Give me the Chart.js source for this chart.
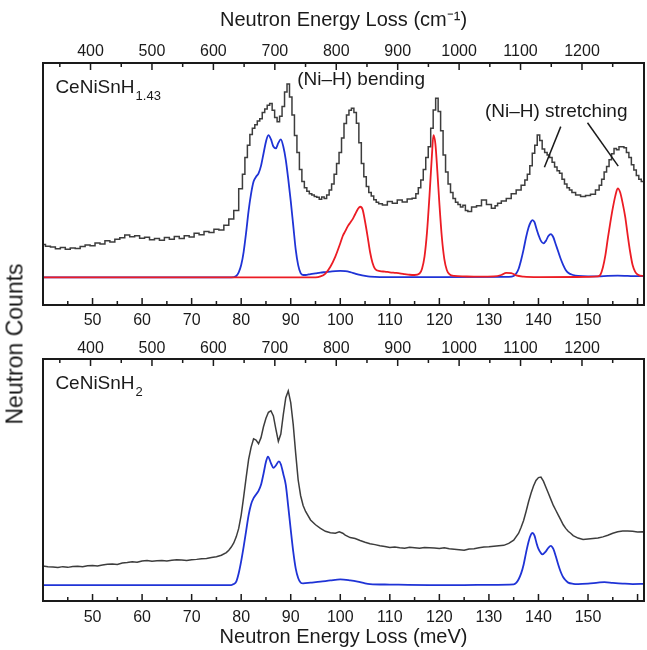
<!DOCTYPE html>
<html>
<head>
<meta charset="utf-8">
<script src="https://cdn.jsdelivr.net/npm/chart.js@4.4.1/dist/chart.umd.min.js"></script>
<style>
  body { margin: 0; background: #fff; }
  #wrap { position: relative; width: 647px; height: 650px; font-family: "Liberation Sans", Arial, sans-serif; }
  canvas { position: absolute; left: 0; }
  #c1 { top: 0; }
  #c2 { top: 330px; }
  #ylab { position: absolute; left: 15px; top: 344px; transform: translate(-50%, -50%) rotate(-90deg);
          font-size: 23px; color: #1a1a1a; white-space: nowrap; }
</style>
</head>
<body>
<div id="wrap">
  <canvas id="c1" width="647" height="330"></canvas>
  <canvas id="c2" width="647" height="320"></canvas>
  <div id="ylab">Neutron Counts</div>
</div>
<script>
const MEV_TO_CM = 8.0655;
const xMin = 40, xMax = 161.3;
const meVTicks = [50, 60, 70, 80, 90, 100, 110, 120, 130, 140, 150];
const cmTicks = [400, 500, 600, 700, 800, 900, 1000, 1100, 1200];

// CeNiSnH1.43 - measured spectrum (meV, counts in arbitrary units)
const topMeasured = [
  [40,25.0],[41,24.3],[42,24.0],[43,23.2],[44,23.8],[45,23.0],[46,23.6],[47,23.3],[48,24.2],[49,24.8],
  [50,24.5],[51,25.6],[52,25.2],[53,26.6],[54,26.0],[55,27.2],[56,27.8],[57,28.9],[58,28.2],[59,28.6],
  [60,27.6],[61,28.0],[62,27.0],[63,27.5],[64,26.8],[65,27.9],[66,27.2],[67,28.3],[68,27.5],[69,28.6],
  [70,28.1],[71,29.6],[72,29.0],[73,30.4],[74,30.0],[75,31.3],[76,31.0],[77,33.0],[78,35.5],[79,39.0],
  [80,48.0],[80.5,54.0],[81,61.0],[81.5,66.0],[82,70.5],[82.5,73.0],[83,74.5],[83.5,76.0],[84,77.0],
  [84.5,79.5],[85,81.0],[85.5,82.5],[86,83.3],[86.5,80.5],[87,77.5],[87.5,75.7],[88,78.0],[88.5,82.0],
  [89,88.0],[89.5,91.3],[90,86.0],[90.5,78.5],[91,70.0],[91.5,63.0],[92,56.0],[92.5,51.0],[93,48.5],
  [93.5,47.0],[94,46.0],[94.5,45.5],[95,44.8],[95.5,44.5],[96,43.7],[96.5,44.6],[97,44.0],[97.5,45.5],
  [98,47.5],[98.5,50.0],[99,54.0],[99.5,58.5],[100,63.0],[100.5,69.0],[101,75.0],[101.5,78.5],[102,80.5],
  [102.5,81.3],[103,79.5],[103.5,75.1],[104,67.0],[104.5,58.5],[105,53.0],[105.5,49.0],[106,46.5],
  [106.5,45.0],[107,43.5],[107.5,42.5],[108,41.8],[109,41.3],[110,42.8],[111,42.0],[112,43.4],[113,42.6],
  [114,43.8],[115,44.1],[115.5,46.0],[116,48.5],[116.5,51.7],[117,56.0],[117.5,61.0],[118,65.4],
  [118.5,73.0],[119,80.6],[119.5,85.4],[120,80.0],[120.5,72.0],[121,62.0],[121.5,55.0],[122,50.0],
  [122.5,46.5],[123,44.0],[123.5,42.5],[124,41.5],[124.5,40.5],[125,41.2],[125.5,39.0],[126,38.6],
  [127,40.5],[128,41.0],[129,43.4],[130,41.5],[131,40.0],[131.5,41.0],[132,42.0],[133,43.0],[134,44.0],
  [135,46.0],[136,47.5],[137,49.5],[137.5,51.7],[138,54.0],[138.5,57.5],[139,62.7],[139.5,66.0],
  [140,70.2],[140.5,68.0],[141,64.5],[141.5,63.0],[142,62.0],[142.5,61.0],[143,59.0],[143.5,57.0],
  [144,55.5],[144.5,54.4],[145,52.0],[145.5,50.0],[146,48.5],[146.5,47.5],[147,46.5],[148,45.5],
  [149,44.8],[150,45.2],[151,45.8],[152,47.5],[152.5,49.5],[153,52.0],[153.5,55.0],[154,57.2],
  [154.5,60.0],[155,62.5],[155.5,64.7],[156,64.2],[156.5,65.4],[157,65.4],[157.5,65.0],[158,63.0],
  [158.5,61.0],[159,58.0],[159.5,55.8],[160,53.5],[160.5,52.0],[161,51.0],[161.5,50.3]
];
// CeNiSnH1.43 - calculated, blue
const topCalcBlue = [
  [40,11.4],[78,11.4],[79,12.0],[79.5,13.5],[80,16.5],[80.5,22],[81,30],[81.5,39],[82,46],[82.5,51],
  [83,53],[83.5,54.4],[84,57.5],[84.5,62.5],[85,67.5],[85.5,70.2],[86,68.5],[86.5,65.5],[87,64.7],
  [87.5,67],[88,68.4],[88.5,65.5],[89,60],[89.5,52],[90,43],[90.5,33],[91,23],[91.5,16.5],[92,13.2],
  [92.5,12.4],[93,12.4],[94,12.8],[95,13.1],[96,13.4],[97,13.6],[98,13.8],[99,14.0],[100,14.1],
  [101,14.0],[102,13.6],[103,13.0],[104,12.4],[105,12.0],[106,11.7],[108,11.5],[120,11.5],[134,11.6],
  [135,12.0],[135.5,13.0],[136,15.0],[136.5,18.6],[137,23.0],[137.5,28.0],[138,32.0],[138.5,34.5],
  [138.8,35.1],[139.2,34.2],[139.6,31.5],[140,29.0],[140.5,26.5],[141,25.5],[141.5,26.5],[142,28.5],
  [142.5,29.3],[143,28.0],[143.5,25.0],[144,22.0],[144.5,19.0],[145,16.5],[145.5,14.5],[146,13.3],
  [147,12.4],[148,12.0],[150,11.8],[152,11.8],[154,12.0],[156,12.1],[158,12.0],[160,11.9],[161.5,11.9]
];
// CeNiSnH1.43 - calculated, red
const topCalcRed = [
  [40,11.4],[95,11.4],[96,11.8],[97,13.0],[98,15.8],[99,20.0],[100,25.5],[100.5,28.5],[101,30.5],
  [101.5,32.5],[102,34.0],[102.5,35.5],[103,37.5],[103.5,39.5],[104,40.6],[104.5,39.5],[105,34.5],
  [105.5,28.5],[106,22.0],[106.5,17.5],[107,15.0],[108,14.0],[109,13.8],[110,13.5],[111,13.3],
  [112,13.1],[113,12.8],[114,12.5],[115,12.4],[116,13.0],[116.5,15.0],[117,20.0],[117.5,30.0],
  [118,45.0],[118.5,62.0],[118.8,70.2],[119.2,66.5],[119.6,55.0],[120,42.0],[120.5,28.0],[121,19.0],
  [121.5,14.5],[122,12.8],[123,12.0],[125,11.8],[128,11.7],[131,11.8],[132.5,12.4],[133.5,13.3],
  [134.5,13.2],[135.5,12.2],[137,11.7],[140,11.5],[150,11.6],[152,11.8],[152.5,12.5],[153,15.5],
  [153.5,20.5],[154,27.5],[154.5,34.0],[155,40.0],[155.5,45.0],[156,48.2],[156.5,46.5],[157,42.0],
  [157.5,36.5],[158,29.0],[158.5,22.0],[159,16.5],[159.5,13.8],[160,12.6],[161,12.0],[161.5,12.0]
];

// CeNiSnH2 - measured
const botMeasured = [
  [40,14.5],[41,14.2],[42,14.0],[43,13.8],[44,14.2],[45,13.9],[46,14.3],[47,14.4],[48,14.2],[49,14.6],
  [50,14.7],[51,14.5],[52,14.9],[53,15.2],[54,15.3],[55,15.1],[56,15.7],[57,15.9],[58,16.2],[59,16.0],
  [60,16.5],[61,16.7],[62,16.4],[63,16.6],[64,16.7],[65,16.5],[66,16.8],[67,17.0],[68,16.9],[69,16.7],
  [70,17.0],[71,17.2],[72,17.5],[73,17.6],[74,18.0],[75,18.3],[76,18.9],[77,20.0],[77.5,21.0],[78,22.3],
  [78.5,24.0],[79,26.5],[79.5,30.0],[80,35.5],[80.5,43.0],[81,51.0],[81.5,58.5],[82,63.5],[82.5,67.0],
  [83,66.5],[83.5,65.0],[84,67.5],[84.5,72.0],[85,75.5],[85.5,78.0],[86,78.6],[86.5,76.5],[87,71.0],
  [87.5,66.0],[88,69.0],[88.5,77.0],[89,84.0],[89.5,86.8],[90,82.0],[90.5,73.0],[91,61.0],[91.5,50.0],
  [92,43.5],[92.5,39.5],[93,37.0],[94,33.5],[95,31.5],[96,30.0],[97,28.8],[98,28.2],[99,28.0],
  [99.8,28.6],[100.5,28.0],[101,27.2],[102,26.2],[103,25.8],[104,25.0],[105,24.3],[106,23.7],
  [107,23.3],[108,22.8],[109,22.5],[110,22.1],[111,22.3],[112,22.0],[113,21.8],[114,22.2],[115,22.0],
  [116,21.8],[117,22.1],[118,22.0],[119,21.9],[120,21.7],[121,22.0],[122,21.6],[123,21.4],[124,21.2],
  [125,21.0],[126,21.5],[127,21.6],[128,22.0],[129,22.3],[130,22.4],[131,22.6],
  [132,22.8],[133,23.0],[134,23.8],[135,25.1],[136,28.0],[136.5,30.5],[137,33.3],[137.5,37.0],
  [138,41.0],[138.5,44.5],[139,47.5],[139.5,49.8],[140,51.0],[140.5,51.2],[141,49.5],[141.5,47.0],
  [142,44.5],[142.5,42.0],[143,39.5],[143.5,37.5],[144,35.5],[144.5,33.5],[145,31.5],[145.5,30.0],
  [146,28.8],[146.5,28.0],[147,27.0],[148,26.0],[149,25.4],[150,25.6],[151,25.8],[152,26.0],[153,26.5],
  [154,27.2],[155,28.0],[156,28.6],[157,28.9],[158,28.9],[159,28.8],[160,28.5],[161,28.6],[161.5,28.5]
];
// CeNiSnH2 - calculated, blue
const botCalcBlue = [
  [40,6.6],[78,6.6],[78.5,7.0],[79,8.0],[79.5,11.5],[80,16.5],[80.5,22.5],[81,29.0],[81.5,35.5],
  [82,40.0],[82.5,42.5],[83,44.0],[83.5,45.5],[84,48.0],[84.5,52.5],[85,57.5],[85.4,59.7],[86,57.0],
  [86.5,55.0],[87,56.0],[87.6,57.7],[88,56.5],[88.5,52.5],[89,48.0],[89.5,39.0],[90,29.5],[90.5,20.5],
  [91,13.5],[91.5,9.5],[92,7.6],[92.5,7.3],[94,7.6],[96,8.0],[98,8.5],[100,8.9],[102,8.5],[103.5,8.0],
  [105,7.3],[106,7.0],[110,6.8],[118,6.6],[125,6.6],[130,6.7],[135,6.9],[135.5,7.5],[136,9.0],
  [136.5,11.4],[137,15.0],[137.5,20.0],[138,24.5],[138.5,27.5],[138.8,28.1],[139.2,27.0],[139.6,24.0],
  [140,21.5],[140.5,19.8],[140.8,19.3],[141.5,20.5],[142,22.0],[142.5,22.8],[143,21.5],[143.5,18.5],
  [144,15.0],[144.5,12.0],[145,9.8],[145.5,8.5],[146,7.6],[147,7.1],[148,7.0],[150,7.2],[152,7.6],
  [153.3,7.8],[155,7.5],[157,7.2],[159,7.0],[161.5,7.1]
];

const FONT = '"Liberation Sans", Arial, sans-serif';
const INK = '#1a1a1a';
const BLACK = '#3d3d3d';
const BLUE = '#1f33d6';
const RED = '#ec1c24';

const toPts = arr => arr.map(([x, y]) => ({ x, y }));

// frame + inward tick marks on both x axes
const framePlugin = {
  id: 'frame',
  afterDatasetsDraw(chart) {
    const { ctx, chartArea: a, scales } = chart;
    ctx.save();
    ctx.strokeStyle = INK;
    ctx.lineWidth = 1.5;
    ctx.beginPath();
    for (let v = 40; v <= 160; v += 5) {
      const px = scales.x.getPixelForValue(v);
      if (px <= a.left + 1 || px >= a.right - 1) continue;
      const len = v % 10 === 0 ? 7 : 4;
      ctx.moveTo(px, a.bottom);
      ctx.lineTo(px, a.bottom - len);
    }
    for (let v = 300; v <= 1300; v += 50) {
      const px = scales.x2.getPixelForValue(v);
      if (px <= a.left + 1 || px >= a.right - 1) continue;
      const len = v % 100 === 0 ? 7 : 4;
      ctx.moveTo(px, a.top);
      ctx.lineTo(px, a.top + len);
    }
    ctx.stroke();
    ctx.lineWidth = 2;
    ctx.strokeRect(a.left, a.top, a.right - a.left, a.bottom - a.top);
    ctx.restore();
  }
};

// sample names, band labels and leader lines, placed in data coords
const notesPlugin = {
  id: 'notes',
  afterDraw(chart, args, opts) {
    const { ctx, scales } = chart;
    const X = v => scales.x.getPixelForValue(v);
    const Y = v => scales.y.getPixelForValue(v);
    ctx.save();
    ctx.fillStyle = INK;
    ctx.textBaseline = 'middle';
    ctx.textAlign = 'left';
    (opts.items || []).forEach(it => {
      ctx.font = it.size + 'px ' + FONT;
      ctx.fillText(it.text, X(it.x), Y(it.y));
      if (it.sub) {
        const w = ctx.measureText(it.text).width;
        ctx.font = '13px ' + FONT;
        ctx.fillText(it.sub, X(it.x) + w + 1, Y(it.y) + 8);
      }
    });
    ctx.strokeStyle = INK;
    ctx.lineWidth = 1.5;
    (opts.leaders || []).forEach(([x1, y1, x2, y2]) => {
      ctx.beginPath();
      ctx.moveTo(X(x1), Y(y1));
      ctx.lineTo(X(x2), Y(y2));
      ctx.stroke();
    });
    ctx.restore();
  }
};

function lineSet(data, color, kind) {
  const smooth = kind === 'calc';
  return {
    data: toPts(data),
    borderColor: color,
    borderWidth: smooth ? 1.8 : 1.5,
    pointRadius: 0,
    fill: false,
    stepped: kind === 'hist' ? 'middle' : false,
    cubicInterpolationMode: smooth ? 'monotone' : 'default',
    tension: smooth ? 0.4 : 0,
    xAxisID: 'x',
    yAxisID: 'y'
  };
}

function makePanel(id, datasets, notes, o) {
  return new Chart(document.getElementById(id), {
    type: 'line',
    data: { datasets },
    options: {
      responsive: false,
      animation: false,
      layout: { padding: { left: 43, right: 3, top: 0, bottom: 0 } },
      plugins: { legend: { display: false }, tooltip: { enabled: false }, notes },
      scales: {
        x: {
          type: 'linear', position: 'bottom', min: xMin, max: xMax,
          grid: { display: false, drawTicks: false },
          border: { display: false },
          afterBuildTicks: s => { s.ticks = meVTicks.map(v => ({ value: v })); },
          ticks: { font: { size: 16, family: FONT }, color: INK, padding: o.bottomPad,
                   maxRotation: 0, autoSkip: false, callback: v => String(v) },
          title: o.bottomTitle,
          afterFit: s => { s.height = o.bottomH; }
        },
        x2: {
          type: 'linear', position: 'top', min: xMin * MEV_TO_CM, max: xMax * MEV_TO_CM,
          grid: { display: false, drawTicks: false },
          border: { display: false },
          afterBuildTicks: s => { s.ticks = cmTicks.map(v => ({ value: v })); },
          ticks: { font: { size: 16, family: FONT }, color: INK, padding: o.topPad,
                   maxRotation: 0, autoSkip: false, callback: v => String(v) },
          title: o.topTitle,
          afterFit: s => { s.height = o.topH; }
        },
        y: { display: false, min: 0, max: 100 }
      }
    },
    plugins: [framePlugin, notesPlugin]
  });
}

makePanel('c1',
  [lineSet(topCalcRed, RED, 'calc'), lineSet(topCalcBlue, BLUE, 'calc'), lineSet(topMeasured, BLACK, 'hist')],
  {
    items: [
      { text: 'CeNiSnH', sub: '1.43', x: 42.5, y: 89.7, size: 19 },
      { text: '(Ni–H) bending', x: 91.3, y: 93, size: 19 },
      { text: '(Ni–H) stretching', x: 129.2, y: 79.8, size: 19 }
    ],
    leaders: [[144.5, 73.7, 141.2, 56.9], [149.9, 75.3, 156.1, 57.4]]
  },
  {
    topH: 63, bottomH: 25, topPad: 2, bottomPad: 6,
    topTitle: { display: true, text: 'Neutron Energy Loss (cm⁻¹)', color: INK,
                font: { size: 20, family: FONT }, padding: { top: 8, bottom: 0 } },
    bottomTitle: { display: false }
  });

makePanel('c2',
  [lineSet(botCalcBlue, BLUE, 'calc'), lineSet(botMeasured, BLACK, 'line')],
  { items: [{ text: 'CeNiSnH', sub: '2', x: 42.5, y: 89.7, size: 19 }] },
  {
    topH: 29, bottomH: 49, topPad: 1, bottomPad: 7,
    topTitle: { display: false },
    bottomTitle: { display: true, text: 'Neutron Energy Loss (meV)', color: INK,
                   font: { size: 20, family: FONT }, padding: { top: 0, bottom: 1 } }
  });
</script>
</body>
</html>
